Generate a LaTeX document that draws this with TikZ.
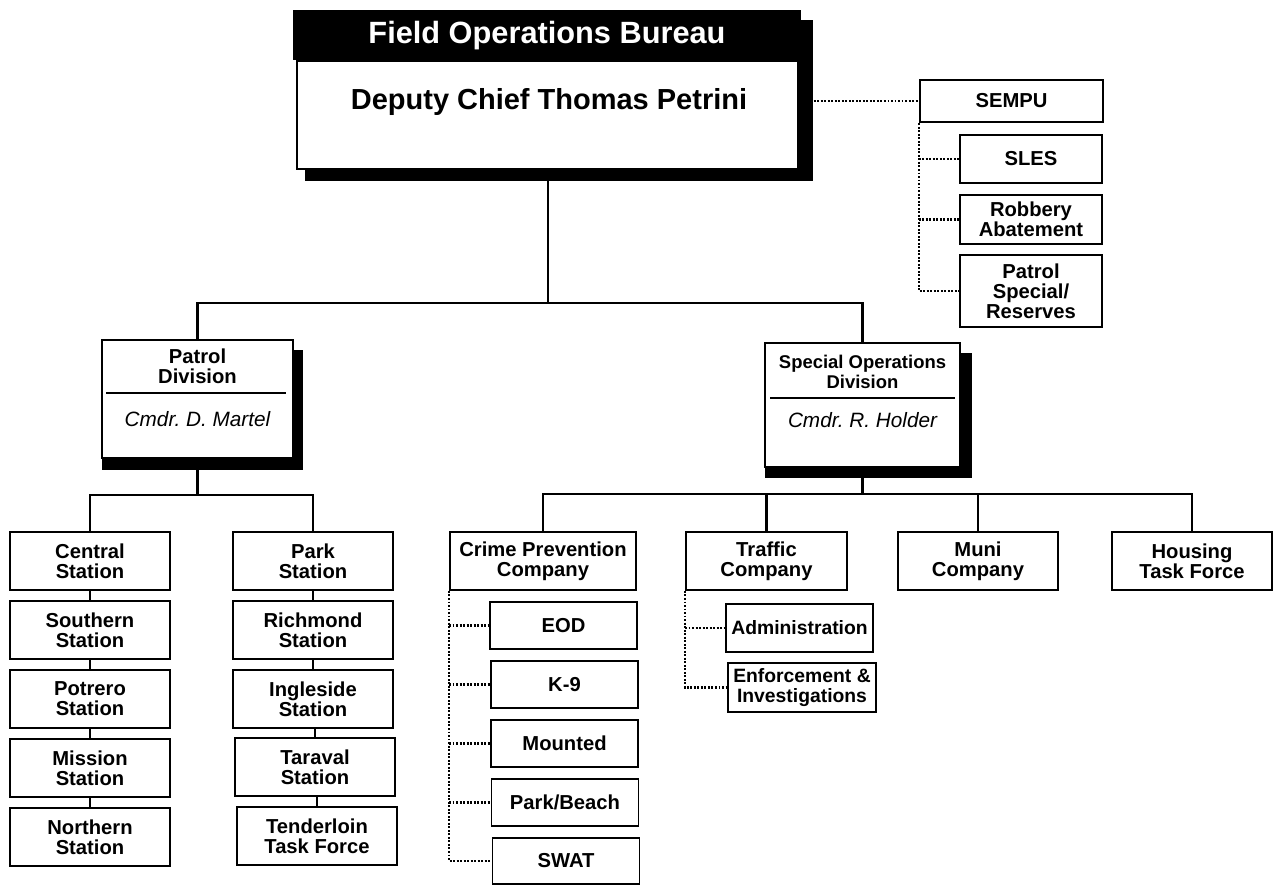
\documentclass[tikz,border=0pt]{standalone}
\usepackage{fontspec}
\setmainfont{Liberation Sans}

\begin{document}
\begin{tikzpicture}[x=0.02cm, y=-0.02cm,
    unit/.style 2 args={draw, line width=1.1pt, fill=white, align=center, inner sep=0pt,
      minimum width=#1*0.02cm, minimum height=#2*0.02cm,
      font=\bfseries\fontsize{11.5}{11.5}\selectfont},
    dark/.style 2 args={fill=black, inner sep=0pt, anchor=north west,
      minimum width=#1*0.02cm, minimum height=#2*0.02cm},
    title/.style={align=center, inner sep=0pt, font=\bfseries\fontsize{11.5}{11.5}\selectfont},
    cmdr/.style={inner sep=0pt, font=\itshape\fontsize{11.8}{11.8}\selectfont},
    link/.style={line width=1.4pt},
    dotline/.style={line width=1.3pt, dash pattern=on 1.1pt off 0.9pt}]
      \useasboundingbox (0,0) rectangle (1275,885);

      % bureau head
      \node[dark={508}{161}] (chiefsh) at (305,20) {};
      \node[dark={508}{50}] (bureaubar) at (293,10) {};
      \node[unit={501}{108}, anchor=north west, line width=1.4pt] (chief) at (296,60) {};
      \node[text=white, font=\bfseries\fontsize{17.5}{17.5}\selectfont] (bureau) at (547,36) {Field Operations Bureau};
      \node[font=\bfseries\fontsize{16.5}{16.5}\selectfont] (chiefname) at (549,102) {Deputy Chief Thomas Petrini};

      % SEMPU
      \node[unit={183}{42}, line width=1.5pt] (sempu) at (1011.5,101) {SEMPU};
      \node[unit={142}{48}] (sles) at (1031,159) {SLES};
      \node[unit={142}{49}] (robbery) at (1031,219.5) {Robbery\\Abatement};
      \node[unit={142}{72}] (reserves) at (1031,291) {Patrol\\Special/\\Reserves};
      \draw[dotline] (chiefsh.east |- sempu.west) -- (sempu.west);
      \draw[dotline] (sempu.south west) |- (reserves.west);
      \draw[dotline] (sempu.south west |- sles.west) -- (sles.west);
      \draw[dotline] (sempu.south west |- robbery.west) -- (robbery.west);

      % divisions
      \node[dark={201}{120}] (patrolsh) at (102,350) {};
      \node[unit={191}{118}] (patrol) at (197.5,399) {};
      \node[title] (patroltitle) at (197.5,366) {Patrol\\Division};
      \draw[line width=1.1pt] (106,393) -- (286,393);
      \node[cmdr] (patrolcmdr) at (197.5,419) {Cmdr.\ D.\ Martel};

      \node[dark={207}{125}] (sodsh) at (765,353) {};
      \node[unit={195}{124}] (sod) at (862.5,405) {};
      \node[title, font=\bfseries\fontsize{10.5}{11}\selectfont] (sodtitle) at (862.5,372) {Special Operations\\Division};
      \draw[line width=1.1pt] (770,398) -- (955,398);
      \node[cmdr] (sodcmdr) at (862.5,420) {Cmdr.\ R.\ Holder};

      \coordinate (topbus) at (549,303);
      \draw[link] (chief.south) -- (chief.south |- topbus);
      \draw[link] (patrol.north) |- (sod.north |- topbus) -- (sod.north);

      % patrol stations
      \node[unit={160}{58}] (central) at (90,561) {Central\\Station};
      \node[unit={160}{58}] (southern) at (90,630) {Southern\\Station};
      \node[unit={160}{58}] (potrero) at (90,699) {Potrero\\Station};
      \node[unit={160}{58}] (mission) at (90,768) {Mission\\Station};
      \node[unit={160}{58}] (northern) at (90,837) {Northern\\Station};
      \node[unit={160}{58}] (park) at (313,561) {Park\\Station};
      \node[unit={160}{58}] (richmond) at (313,630) {Richmond\\Station};
      \node[unit={160}{58}] (ingleside) at (313,699) {Ingleside\\Station};
      \node[unit={160}{58}] (taraval) at (315,767) {Taraval\\Station};
      \node[unit={160}{58}] (tenderloin) at (317,836) {Tenderloin\\Task Force};

      \coordinate (pbus) at (198,495);
      \draw[link] (patrol.south) -- (patrol.south |- pbus);
      \draw[link] (central.north) |- (park.north |- pbus) -- (park.north);
      \draw[link] (central) -- (southern);
      \draw[link] (southern) -- (potrero);
      \draw[link] (potrero) -- (mission);
      \draw[link] (mission) -- (northern);
      \draw[link] (park) -- (richmond);
      \draw[link] (richmond) -- (ingleside);
      \draw[link] (taraval.north) -- (taraval.north |- ingleside.south);
      \draw[link] (tenderloin.north) -- (tenderloin.north |- taraval.south);

      % special operations companies
      \node[unit={186}{58}] (crime) at (543,561) {Crime Prevention\\Company};
      \node[unit={161}{58}] (traffic) at (766.5,561) {Traffic\\Company};
      \node[unit={160}{58}] (muni) at (978,561) {Muni\\Company};
      \node[unit={160}{58}] (housing) at (1192,561) {Housing\\Task Force};

      \coordinate (sbus) at (866,494);
      \draw[link] (sod.south) -- (sod.south |- sbus);
      \draw[link] (crime.north) |- (housing.north |- sbus) -- (housing.north);
      \draw[link] (traffic.north) -- (traffic.north |- sbus);
      \draw[link] (muni.north) -- (muni.north |- sbus);

      \node[unit={147}{47}] (eod) at (563.5,625.5) {EOD};
      \node[unit={147}{47}] (canine) at (564.5,684.5) {K-9};
      \node[unit={147}{47}] (mounted) at (564.5,743.5) {Mounted};
      \node[unit={147}{47}] (beach) at (565,802.5) {Park/Beach};
      \node[unit={147}{46}] (swat) at (566,861) {SWAT};
      \draw[dotline] (crime.south west) |- (swat.west);
      \draw[dotline] (crime.south west |- eod.west) -- (eod.west);
      \draw[dotline] (crime.south west |- canine.west) -- (canine.west);
      \draw[dotline] (crime.south west |- mounted.west) -- (mounted.west);
      \draw[dotline] (crime.south west |- beach.west) -- (beach.west);

      \node[unit={147}{48}, font=\bfseries\fontsize{11}{11.5}\selectfont] (admin) at (799.5,628) {Administration};
      \node[unit={148}{49}, font=\bfseries\fontsize{11}{11.5}\selectfont] (enforce) at (802,687.5) {Enforcement \&\\Investigations};
      \draw[dotline] (traffic.south west) |- (enforce.west);
      \draw[dotline] (traffic.south west |- admin.west) -- (admin.west);
\end{tikzpicture}
\end{document}
